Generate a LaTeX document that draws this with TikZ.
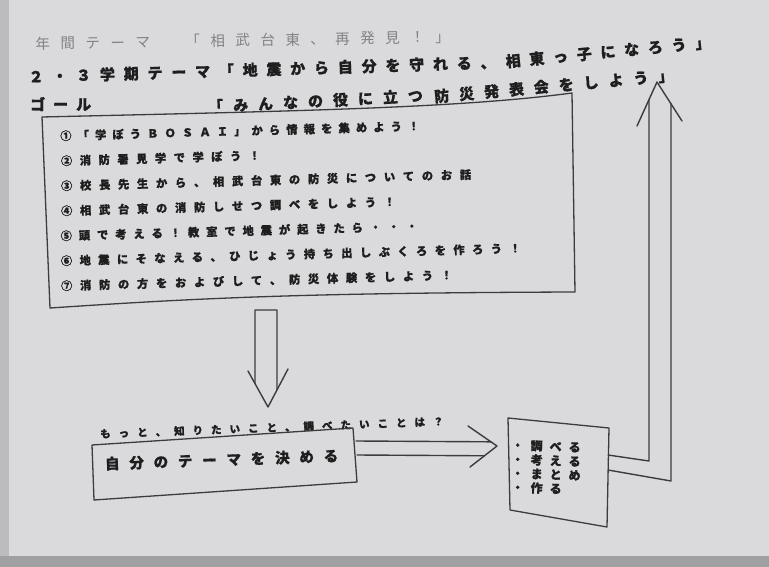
\documentclass[tikz,border=0pt]{standalone}
\usepackage{fontspec}
\newfontfamily\jp[BoldFeatures={FakeBold=0.8}]{Noto Sans CJK JP}
\makeatletter
\newcommand\spcd[2]{\def\spc@w{#1}\spc@loop#2\relax}
\def\spc@loop#1{\ifx\relax#1\else\makebox[\spc@w][c]{#1}\expandafter\spc@loop\fi}
\makeatother
\definecolor{paper}{RGB}{218,218,220}
\definecolor{edgeL}{RGB}{188,188,190}
\definecolor{edgeB}{RGB}{160,160,162}
\definecolor{ink}{RGB}{30,30,30}
\definecolor{pen}{RGB}{60,60,62}
\definecolor{faint}{RGB}{130,130,132}
\tikzset{
  txt/.style={inner sep=0pt, anchor=west, text=ink},
  titleA/.style={txt, text=faint, font={\jp\fontsize{14.5}{14.5}\selectfont}},
  titleB/.style={txt, font={\jp\bfseries\fontsize{15}{15}\selectfont}},
  item/.style={txt, font={\jp\bfseries\fontsize{11.3}{11.3}\selectfont}},
  ask/.style={txt, font={\jp\bfseries\fontsize{10.5}{10.5}\selectfont}},
  themetxt/.style={txt, font={\jp\bfseries\fontsize{14.5}{14.5}\selectfont}},
  smalltxt/.style={txt, font={\jp\bfseries\fontsize{12}{12}\selectfont}},
  boxline/.style={draw=pen, line width=1.3pt, line join=round},
  penline/.style={draw=pen, line width=1.4pt, line join=round, line cap=round}
}
\begin{document}
\begin{tikzpicture}[x=1pt,y=-1pt]
\useasboundingbox (0,0) rectangle (769,567);
\fill[paper] (0,0) rectangle (769,567);
\fill[edgeL] (0,0) rectangle (9,567);
\fill[edgeB] (0,556) rectangle (769,567);

% titles
\node[titleA, rotate=1] (t1) at (30,44) {\spcd{25pt}{年間テーマ　「相武台東、再発見！」}};
\node[titleB, rotate=1.8] (t2a) at (24,77) {\spcd{23.8pt}{２・３学期テーマ「地震から自分を守れる、}};
\node[titleB, rotate=5.5] (t2b) at ([xshift=1pt]t2a.east) {\spcd{23.8pt}{相東っ子になろう」}};
\node[titleB] (t3) at (26,104) {\spcd{23pt}{ゴール}};
\node[titleB, rotate=3] (t3a) at (203,107) {\spcd{25pt}{「みんなの役に立つ}};
\node[titleB, rotate=5.2] (t3b) at ([xshift=1pt,yshift=-2pt]t3a.east) {\spcd{25pt}{防災発表会をしよう」}};

% big box
\coordinate (bTL) at (42,117);
\coordinate (bTR) at (572,93);
\coordinate (bBR) at (575,292);
\coordinate (bBL) at (50,308);
\draw[boxline] (bTL) .. controls (300,111) and (460,108) .. (bTR) -- (bBR)
  .. controls (300,293) and (200,298) .. (bBL) -- cycle;
\node[item, rotate=1.6] (i1) at (57,136) {\spcd{17.4pt}{①「学ぼうＢＯＳＡＩ」から情報を集めよう！}};
\node[item, rotate=1.6] (i2) at (57,161) {\spcd{18.8pt}{②消防署見学で学ぼう！}};
\node[item, rotate=1.6] (i3) at (57,186) {\spcd{19pt}{③校長先生から、相武台東の防災についてのお話}};
\node[item, rotate=1.6] (i4) at (57,211) {\spcd{19pt}{④相武台東の消防しせつ調べをしよう！}};
\node[item, rotate=1.6] (i5) at (57,236) {\spcd{18.2pt}{⑤頭で考える！教室で地震が起きたら・・・}};
\node[item, rotate=1.6] (i6) at (57,261) {\spcd{18.7pt}{⑥地震にそなえる、ひじょう持ち出しぶくろを作ろう！}};
\node[item, rotate=1.6] (i7) at (57,286) {\spcd{19pt}{⑦消防の方をおよびして、防災体験をしよう！}};

% down arrow
\coordinate (dA) at (255,310);
\coordinate (dB) at (277,310);
\coordinate (dAb) at (255,420);
\coordinate (dBb) at (277,420);
\coordinate (dL) at (248,371);
\coordinate (dT) at (268,407);
\coordinate (dR) at (288,369);
\draw[penline] (intersection of dA--dAb and dL--dT) -- (dA) -- (dB) -- (intersection of dB--dBb and dR--dT);
\draw[penline] (dL) -- (dT) -- (dR);

% question
\node[ask, rotate=2.1] (q) at (96,434) {\spcd{18.5pt}{もっと、知りたいこと、調べたいことは？}};

% theme box
\coordinate (tTL) at (92,445);
\coordinate (tTR) at (353,428);
\coordinate (tBR) at (357,482);
\coordinate (tBL) at (94,500);
\draw[boxline] (tTL) -- (tTR) -- (tBR) -- (tBL) -- cycle;
\node[themetxt, rotate=2] (th) at (100,464) {\spcd{24.3pt}{自分のテーマを決める}};

% right arrow
\coordinate (r1) at (356,441);
\coordinate (r1e) at (520,442);
\coordinate (r2) at (357,455);
\coordinate (r2e) at (520,456);
\coordinate (hA) at (468,426);
\coordinate (hT) at (497,446);
\coordinate (hB) at (470,467);
\draw[penline] (r1) -- (intersection of r1--r1e and hA--hT);
\draw[penline] (r2) -- (intersection of r2--r2e and hB--hT);
\draw[penline] (hA) -- (hT) -- (hB);

% small box
\coordinate (sTL) at (508,418);
\coordinate (sTR) at (609,428);
\coordinate (sBR) at (607,527);
\coordinate (sBL) at (510,510);
\draw[boxline] (sTL) -- (sTR) -- (sBR) -- (sBL) -- cycle;
\node[smalltxt, rotate=-2] (s1) at (508,445) {\spcd{19pt}{・調べる}};
\node[smalltxt, rotate=-2] (s2) at (508,459) {\spcd{19pt}{・考える}};
\node[smalltxt, rotate=-2] (s3) at (508,473) {\spcd{19pt}{・まとめ}};
\node[smalltxt, rotate=-2] (s4) at (508,487) {\spcd{19pt}{・作る}};

% up arrow
\coordinate (u1) at (608,455);
\coordinate (u1c) at (649,461);
\coordinate (u1t) at (649,40);
\coordinate (u2) at (608,470);
\coordinate (u2c) at (671,481);
\coordinate (u2t) at (671,40);
\coordinate (uL) at (637,126);
\coordinate (uT) at (657,82);
\coordinate (uR) at (682,121);
\draw[penline] (u1) -- (u1c) -- (intersection of u1c--u1t and uL--uT);
\draw[penline] (u2) -- (u2c) -- (intersection of u2c--u2t and uR--uT);
\draw[penline] (uL) -- (uT) -- (uR);
\end{tikzpicture}
\end{document}
